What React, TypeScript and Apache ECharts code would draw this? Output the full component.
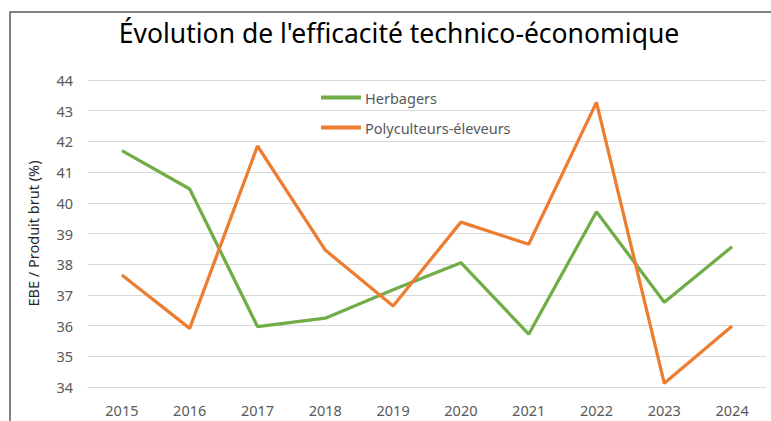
import React, { useEffect, useRef } from "react";
import * as echarts from "echarts";

const years = ["2015", "2016", "2017", "2018", "2019", "2020", "2021", "2022", "2023", "2024"];
const herbagers = [41.7, 40.45, 35.97, 36.24, 37.17, 38.05, 35.72, 39.71, 36.76, 38.57];
const polyculteurs = [37.65, 35.91, 41.85, 38.46, 36.64, 39.37, 38.65, 43.27, 34.12, 35.99];
const seriesNames = ["Herbagers", "Polyculteurs-éleveurs"];
const titleText = "Évolution de l'efficacité technico-économique";
const yAxisName = "EBE / Produit brut (%)";

export default function App() {
  const ref = useRef<HTMLDivElement>(null);
  useEffect(() => {
    if (!ref.current) return;
    const chart = echarts.init(ref.current, undefined, { renderer: "svg" });
    const font = "Noto Sans";
    chart.setOption({
      animation: false,
      backgroundColor: "#ffffff",
      textStyle: { fontFamily: font },
      title: {
        text: titleText,
        left: 394,
        textAlign: "center",
        top: 14,
        textStyle: { fontFamily: font, fontSize: 26.5, fontWeight: "normal", color: "#000000" },
      },
      graphic: [
        {
          type: "rect",
          shape: { x: 10, y: 12, width: 900, height: 600 },
          style: { fill: "none", stroke: "#595959", lineWidth: 1.5 },
          silent: true,
        },
      ],
      legend: {
        orient: "vertical",
        left: 316,
        top: 85,
        icon: "rect",
        itemWidth: 40,
        itemHeight: 4,
        itemGap: 15,
        textStyle: { fontFamily: font, fontSize: 14.5, lineHeight: 15, color: "#595959", padding: [0, 0, 0, -1] },
        data: seriesNames,
      },
      grid: { left: 88, right: 5, top: 80, bottom: 34, containLabel: false },
      xAxis: {
        type: "category",
        data: years,
        boundaryGap: true,
        axisLine: { show: true, lineStyle: { color: "#D9D9D9", width: 1 } },
        axisTick: { show: false },
        axisLabel: { margin: 15, fontFamily: font, fontSize: 14.5, color: "#595959" },
      },
      yAxis: {
        type: "value",
        min: 34,
        max: 44,
        interval: 1,
        name: yAxisName,
        nameLocation: "middle",
        nameGap: 48,
        nameTextStyle: { fontFamily: font, fontSize: 14.5, color: "#262626" },
        axisLine: { show: false },
        axisTick: { show: false },
        axisLabel: { margin: 15, fontFamily: font, fontSize: 14.5, color: "#595959" },
        splitLine: { lineStyle: { color: "#D9D9D9", width: 1 } },
      },
      series: [
        {
          name: seriesNames[0],
          type: "line",
          data: herbagers,
          symbol: "none",
          lineStyle: { color: "#70AD47", width: 3.25 },
          itemStyle: { color: "#70AD47" },
        },
        {
          name: seriesNames[1],
          type: "line",
          data: polyculteurs,
          symbol: "none",
          lineStyle: { color: "#ED7D31", width: 3.25 },
          itemStyle: { color: "#ED7D31" },
        },
      ],
    });
    return () => chart.dispose();
  }, []);
  return (
    <div
      ref={ref}
      style={{ position: "fixed", left: 0, top: 0, width: 771, height: 421 }}
    />
  );
}
